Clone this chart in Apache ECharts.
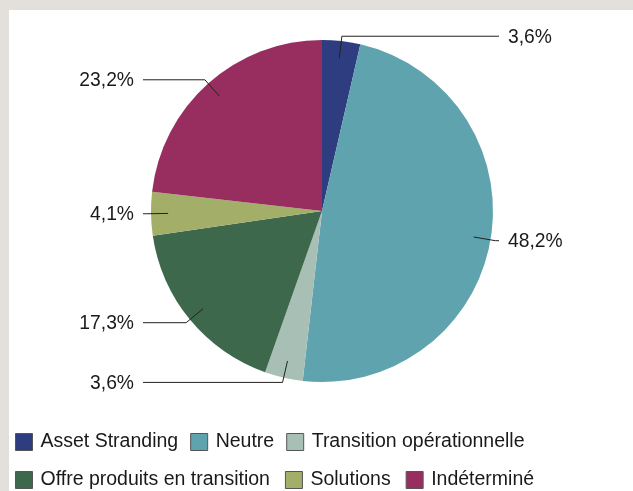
<!DOCTYPE html>
<html><head><meta charset="utf-8">
<script src="https://cdn.jsdelivr.net/npm/echarts@6/dist/echarts.min.js"></script>
<style>html,body{margin:0;padding:0;background:#e3dfda}#c{width:633px;height:491px}</style>
</head><body><div id="c"></div>
<script>
const categories = ['Asset Stranding','Neutre','Transition opérationnelle','Offre produits en transition','Solutions','Indéterminé'];
const values = [3.6, 48.2, 3.6, 17.3, 4.1, 23.2];
const colors = ['#2e3c80','#5fa3ae','#a8bfb5','#3e684b','#a3ae69','#982e60'];
const legendRow1 = categories.slice(0, 3);
const legendRow2 = categories.slice(3);

const CX = 322, CY = 211, R = 171;
const FONT = 'Liberation Sans, Arial, sans-serif';
const chart = echarts.init(document.getElementById('c'), null, {renderer: 'canvas'});
const data = categories.map((n, i) => ({name: n, value: values[i], itemStyle: {color: colors[i]}}));
const fmt = v => v.toFixed(1).replace('.', ',') + '%';

const legendBase = {
  orient: 'horizontal', left: 15, padding: 0, itemWidth: 17, itemHeight: 17, itemGap: 12,
  icon: 'rect', selectedMode: false,
  itemStyle: {borderColor: '#555', borderWidth: 1},
  textStyle: {fontSize: 19.5, color: '#1a1a1a', fontFamily: FONT, padding: [0, 0, 0, 3]}
};

chart.setOption({
  backgroundColor: '#e3dfda',
  animation: false,
  graphic: [{type: 'rect', left: 9, top: 10, shape: {width: 624, height: 481}, style: {fill: '#ffffff'}, z: -10, silent: true}],
  legend: [
    Object.assign({}, legendBase, {data: legendRow1, top: 432}),
    Object.assign({}, legendBase, {data: legendRow2, top: 470, itemGap: 15})
  ],
  series: [
    {
      type: 'pie', z: 2, center: [CX, CY], radius: R, startAngle: 90, clockwise: true,
      data: data, label: {show: false}, labelLine: {show: false},
      itemStyle: {borderWidth: 0}, emphasis: {disabled: true}, silent: true
    },
    {
      type: 'pie', z: 3, center: [CX, CY], radius: R * 0.9, startAngle: 90, clockwise: true,
      data: categories.map((n, i) => ({name: n, value: values[i]})),
      itemStyle: {color: 'rgba(0,0,0,0)', borderWidth: 0},
      emphasis: {disabled: true}, silent: true, avoidLabelOverlap: false,
      label: {show: true, position: 'outside', color: '#1a1a1a', fontSize: 19.3, fontFamily: FONT,
        formatter: p => fmt(p.value)},
      labelLine: {show: true, length: 22, length2: 0, smooth: false, lineStyle: {color: '#222', width: 1}},
      labelLayout: function (params) {
        const pts = params.labelLinePoints;
        if (!pts) return {};
        const isLeft = pts[1][0] < CX;
        const endX = isLeft ? CX - 179 : CX + 177;
        const y = pts[1][1];
        return {
          x: isLeft ? endX - 9 : endX + 9, y: y + 1,
          align: isLeft ? 'right' : 'left', verticalAlign: 'middle',
          labelLinePoints: [pts[0], pts[1], [endX, y]]
        };
      }
    }
  ]
});
</script></body></html>
